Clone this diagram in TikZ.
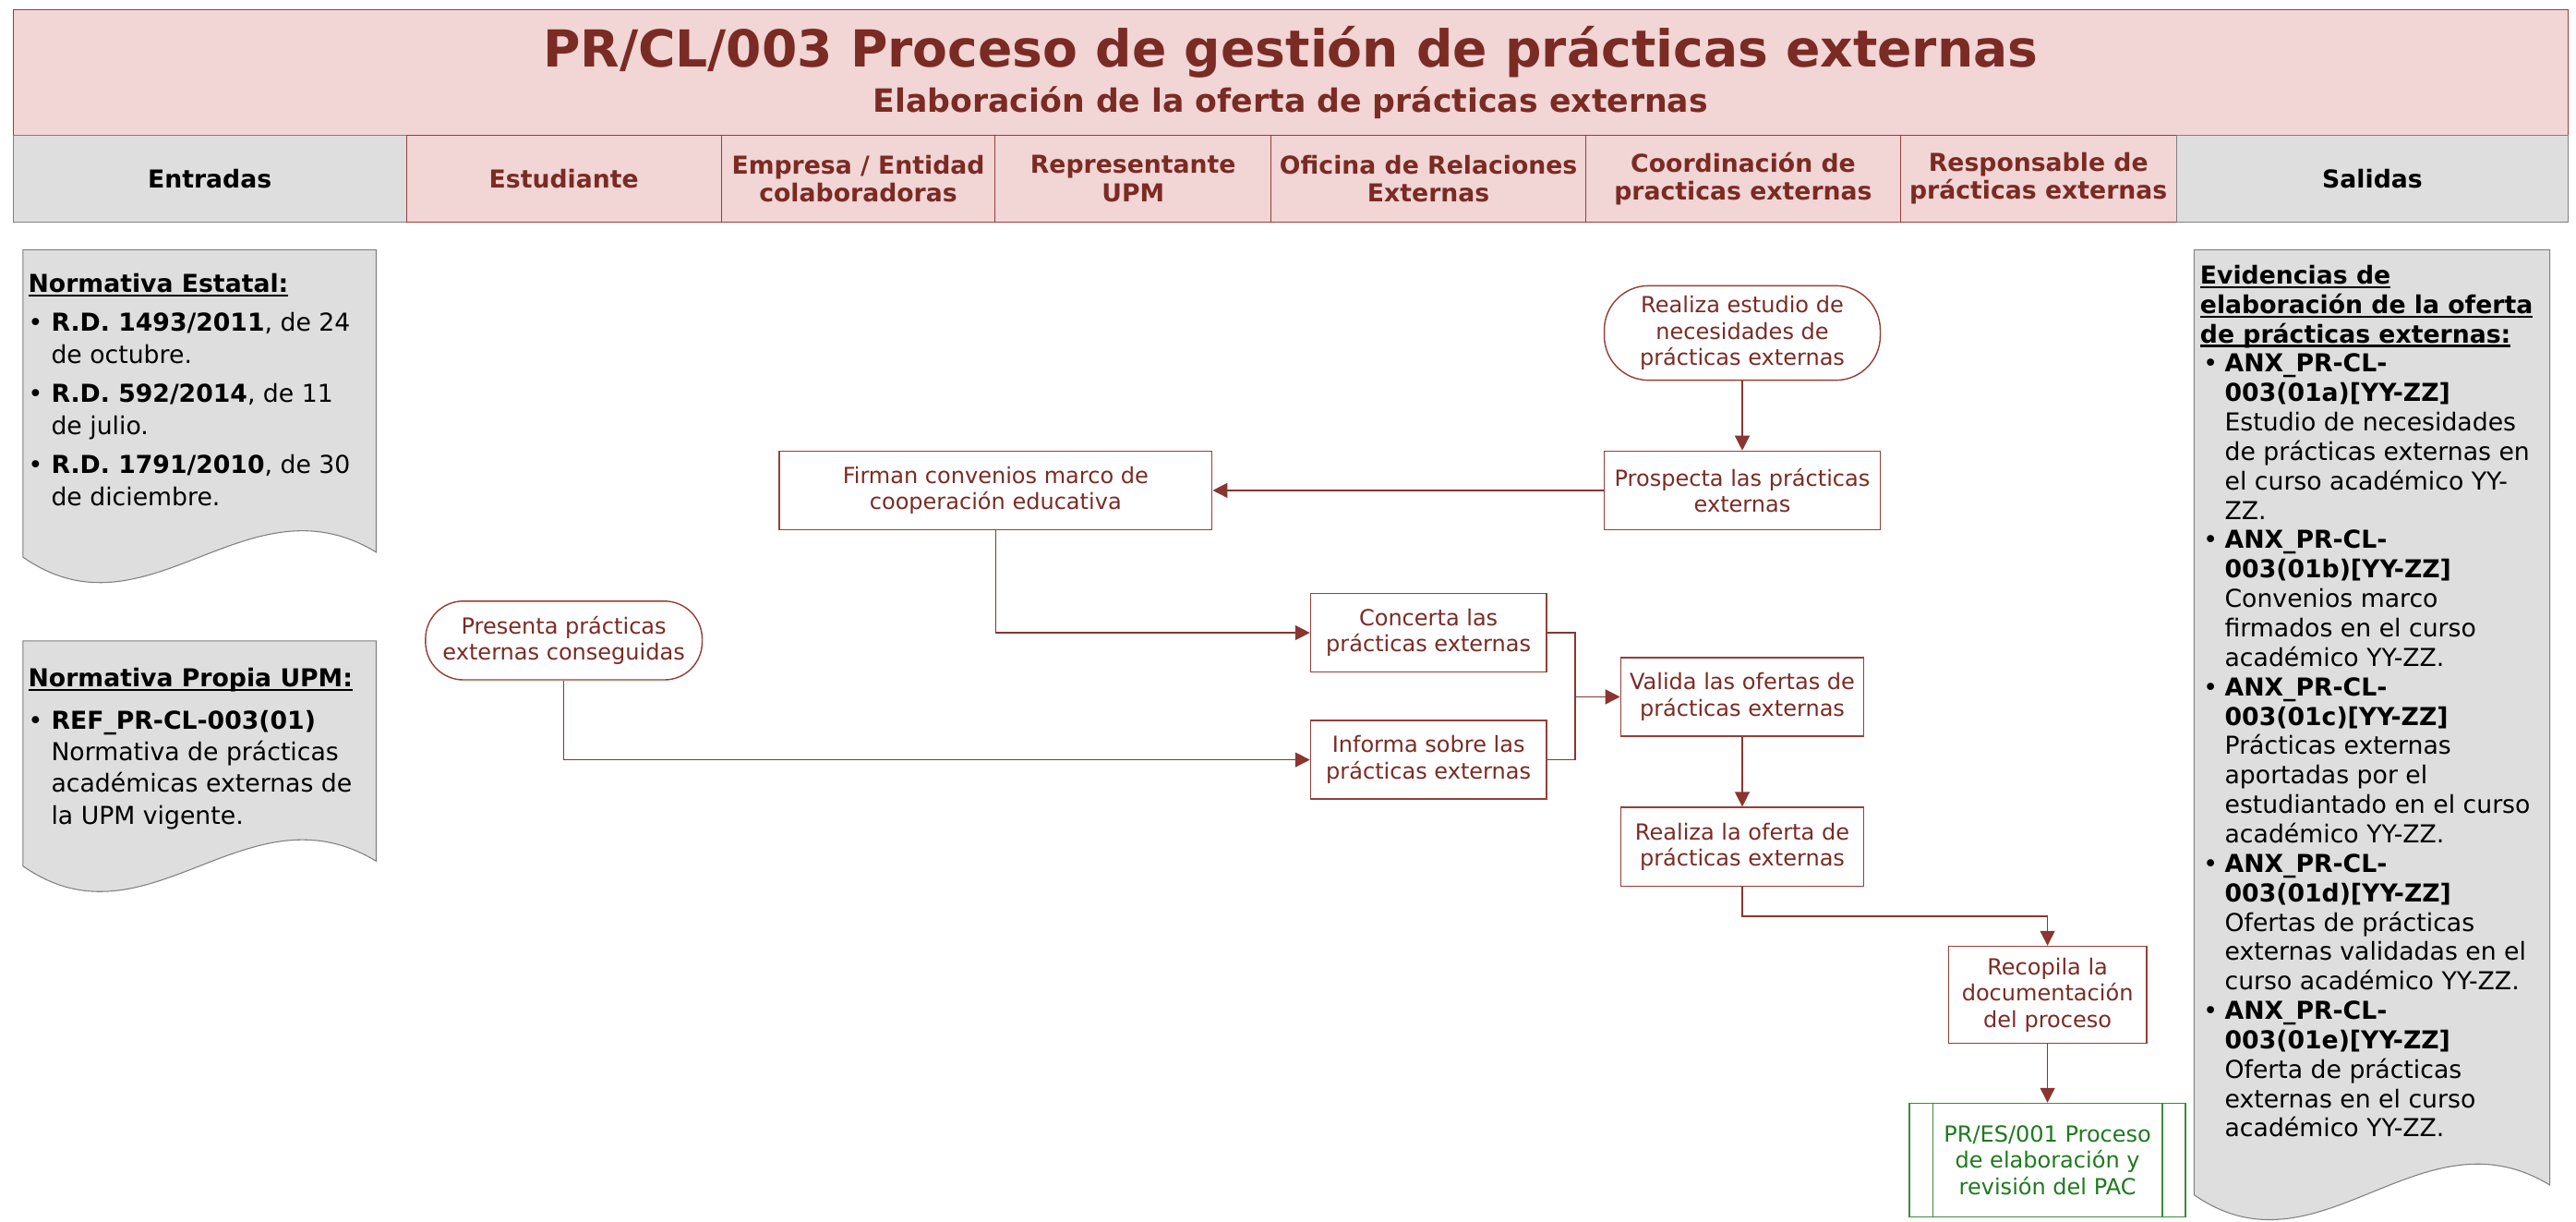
\documentclass[tikz,border=0pt]{standalone}
\usepackage{fontspec}
\setmainfont{DejaVu Sans}
\usetikzlibrary{arrows.meta}
\definecolor{txtc}{HTML}{7A2B24}
\definecolor{boxc}{HTML}{963F37}
\definecolor{linec}{HTML}{8A3530}
\definecolor{pinkf}{HTML}{F2D5D5}
\definecolor{grayf}{HTML}{DEDEDE}
\definecolor{grayb}{HTML}{808080}
\definecolor{greent}{HTML}{1E7A1E}
\definecolor{greenb}{HTML}{3C8C3C}
\newcommand{\blt}{\makebox[14pt][l]{\textbullet}}
\newcommand{\hng}{\hspace*{14pt}}
\newcommand{\bltr}{\makebox[15pt][l]{\hspace*{2pt}\textbullet}}
\newcommand{\hngr}{\hspace*{15pt}}
\newcommand{\ulx}[1]{\setbox0\hbox{#1}\rlap{\rule[-2.6pt]{\wd0}{1.2pt}}\box0}
\begin{document}
\begin{tikzpicture}[x=1pt,y=-1pt,
  proc/.style={draw=boxc,line width=0.8pt,fill=white,text=txtc,font=\fontsize{13.5}{16}\selectfont,align=center,inner sep=0pt},
  term/.style={proc,rounded corners=#1},
  flow/.style={draw=linec,line width=0.8pt,-{Triangle[length=9pt,width=9pt]}},
  link/.style={draw=linec,line width=0.8pt},
  pinkcell/.style={draw=boxc,line width=0.6pt,fill=pinkf,text=txtc,font=\fontsize{15}{17}\selectfont\bfseries,align=center,inner sep=0pt,minimum height=52.6pt},
  graycell/.style={pinkcell,draw=grayb,fill=grayf,text=black},
  docshape/.style={draw=grayb,line width=0.6pt,fill=grayf},
  doctext/.style={anchor=north west,align=left,inner sep=0pt,text=black},
]
\useasboundingbox (0,0) rectangle (1568,743);
\fill[white] (0,0) rectangle (1568,743);

% title band
\path[draw=boxc,line width=0.6pt,fill=pinkf] (7.9,6) rectangle (1563.3,82.4);
\node[anchor=base,text=txtc,font=\fontsize{31}{36}\selectfont\bfseries,inner sep=0pt] (ttl) at (785.6,41) {PR/CL/003 Proceso de gestión de prácticas externas};
\node[anchor=base,text=txtc,font=\fontsize{19.5}{22}\selectfont\bfseries,inner sep=0pt] (sub) at (785.6,68.4) {Elaboración de la oferta de prácticas externas};

% lane headers
\node[graycell,minimum width=239.5pt] (hin) at (127.65,108.7) {Entradas};
\node[pinkcell,minimum width=191.6pt] (hest) at (343.2,108.7) {Estudiante};
\node[pinkcell,minimum width=166.8pt] (hemp) at (522.4,108.7) {Empresa / Entidad\\colaboradoras};
\node[pinkcell,minimum width=167.8pt] (hrep) at (689.7,108.7) {Representante\\UPM};
\node[pinkcell,minimum width=191.8pt] (hofi) at (869.5,108.7) {Oficina de Relaciones\\Externas};
\node[pinkcell,minimum width=191.3pt] (hcoo) at (1061.05,108.7) {Coordinación de\\practicas externas};
\node[pinkcell,minimum width=168.1pt] (hres) at (1240.75,108.7) {Responsable de\\prácticas externas};
\node[graycell,minimum width=238.5pt] (hout) at (1444.05,108.7) {Salidas};

% input documents
\path[docshape] (14,152) -- (229,152) -- (229,336) .. controls (150,288) and (90,392) .. (14,339) -- cycle;
\node[doctext,font=\fontsize{15}{19.3}\selectfont] (d1t) at (17,165.5) {\rule{0pt}{12pt}\ulx{\textbf{Normativa Estatal:}}\\[4.7pt]
\blt\textbf{R.D. 1493/2011}, de 24\\
\hng de octubre.\\[4.7pt]
\blt\textbf{R.D. 592/2014}, de 11\\
\hng de julio.\\[4.7pt]
\blt\textbf{R.D. 1791/2010}, de 30\\
\hng de diciembre.};

\path[docshape] (14,390) -- (229,390) -- (229,524) .. controls (150,476) and (90,580) .. (14,527) -- cycle;
\node[doctext,font=\fontsize{15}{19.3}\selectfont] (d2t) at (17,405.5) {\rule{0pt}{12pt}\ulx{\textbf{Normativa Propia UPM:}}\\[6.5pt]
\blt\textbf{REF\_PR-CL-003(01)}\\
\hng Normativa de prácticas\\
\hng académicas externas de\\
\hng la UPM vigente.};

% output document
\path[docshape] (1335.5,152) -- (1552,152) -- (1552,721) .. controls (1473,673) and (1411.5,780) .. (1335.5,727) -- cycle;
\node[doctext,font=\fontsize{15}{17.9}\selectfont] (d3t) at (1339,160.5) {\rule{0pt}{12pt}\ulx{\textbf{Evidencias de}}\\
\ulx{\textbf{elaboración de la oferta}}\\
\ulx{\textbf{de prácticas externas:}}\\
\bltr\textbf{ANX\_PR-CL-}\\
\hngr\textbf{003(01a)[YY-ZZ]}\\
\hngr Estudio de necesidades\\
\hngr de prácticas externas en\\
\hngr el curso académico YY-\\
\hngr ZZ.\\
\bltr\textbf{ANX\_PR-CL-}\\
\hngr\textbf{003(01b)[YY-ZZ]}\\
\hngr Convenios marco\\
\hngr firmados en el curso\\
\hngr académico YY-ZZ.\\
\bltr\textbf{ANX\_PR-CL-}\\
\hngr\textbf{003(01c)[YY-ZZ]}\\
\hngr Prácticas externas\\
\hngr aportadas por el\\
\hngr estudiantado en el curso\\
\hngr académico YY-ZZ.\\
\bltr\textbf{ANX\_PR-CL-}\\
\hngr\textbf{003(01d)[YY-ZZ]}\\
\hngr Ofertas de prácticas\\
\hngr externas validadas en el\\
\hngr curso académico YY-ZZ.\\
\bltr\textbf{ANX\_PR-CL-}\\
\hngr\textbf{003(01e)[YY-ZZ]}\\
\hngr Oferta de prácticas\\
\hngr externas en el curso\\
\hngr académico YY-ZZ.};

% flow nodes
\node[term=27pt,minimum width=168pt,minimum height=57.5pt] (est) at (1060.5,202.6) {Realiza estudio de\\necesidades de\\prácticas externas};
\node[proc,minimum width=168pt,minimum height=47.8pt] (pros) at (1060.5,298.4) {Prospecta las prácticas\\externas};
\node[proc,minimum width=263.5pt,minimum height=47.8pt] (firm) at (606,298.4) {Firman convenios marco de\\cooperación educativa};
\node[proc,minimum width=143.5pt,minimum height=47.8pt] (conc) at (869.5,385) {Concerta las\\prácticas externas};
\node[proc,minimum width=143.5pt,minimum height=47.8pt] (inf) at (869.5,462.3) {Informa sobre las\\prácticas externas};
\node[term=23pt,minimum width=168.4pt,minimum height=47.9pt] (pres) at (343.2,389.7) {Presenta prácticas\\externas conseguidas};
\node[proc,minimum width=148pt,minimum height=47.8pt] (val) at (1060.5,424) {Valida las ofertas de\\prácticas externas};
\node[proc,minimum width=148pt,minimum height=47.9pt] (ofer) at (1060.5,515.2) {Realiza la oferta de\\prácticas externas};
\node[proc,minimum width=120.5pt,minimum height=59pt] (rec) at (1246.3,605.3) {Recopila la\\documentación\\del proceso};
\node[proc,draw=greenb,text=greent,minimum width=168pt,minimum height=69pt] (pac) at (1246.3,705.8) {PR/ES/001 Proceso\\de elaboración y\\revisión del PAC};
\draw[greenb,line width=0.8pt] ([xshift=14.5pt]pac.north west) -- ([xshift=14.5pt]pac.south west);
\draw[greenb,line width=0.8pt] ([xshift=-14.5pt]pac.north east) -- ([xshift=-14.5pt]pac.south east);

% connectors
\draw[flow] (est.south) -- (pros.north);
\draw[flow] (pros.west) -- (firm.east);
\draw[flow] (firm.south) |- (conc.west);
\draw[flow] (pres.south) |- (inf.west);
\coordinate (mj) at (958.7,424);
\draw[link] (conc.east) -| (mj);
\draw[link] (inf.east) -| (mj);
\draw[flow] (mj) -- (val.west);
\draw[flow] (val.south) -- (ofer.north);
\coordinate (rj) at (1060.5,557.5);
\draw[flow] (ofer.south) -- (rj) -| (rec.north);
\draw[flow] (rec.south) -- (pac.north);
\end{tikzpicture}
\end{document}
